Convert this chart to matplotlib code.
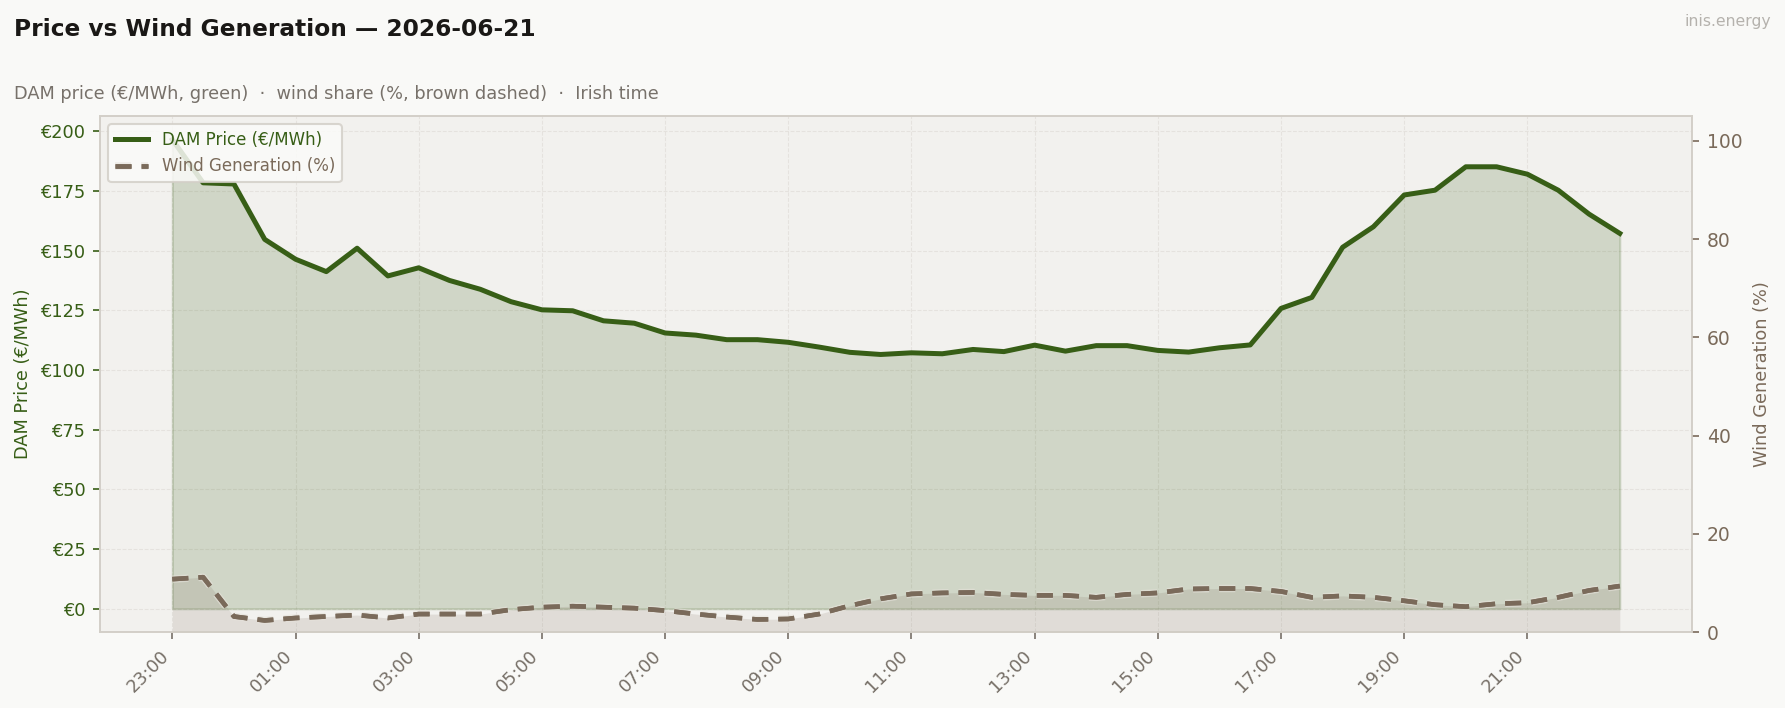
import pandas as pd
import matplotlib
matplotlib.use("Agg")
import matplotlib.pyplot as plt
import matplotlib.dates as mdates
import matplotlib.patheffects as pe

# half-hourly DAM prices (EUR/MWh) from 23:00 on 2026-06-20
price = [
    196.5, 178.4, 177.9, 154.7, 146.4, 141.2, 151.0, 139.4,
    142.8, 137.5, 133.8, 128.6, 125.2, 124.8, 120.6, 119.6,
    115.5, 114.6, 112.7, 112.7, 111.6, 109.6, 107.4, 106.5,
    107.2, 106.8, 108.6, 107.7, 110.4, 107.9, 110.2, 110.2,
    108.2, 107.5, 109.3, 110.5, 125.8, 130.4, 151.4, 160.0,
    173.3, 175.3, 185.1, 185.1, 182.0, 175.3, 165.3, 157.2,
]
# wind share of generation (%)
wind = [
    10.8, 11.2, 3.2, 2.4, 2.9, 3.2, 3.5, 2.9,
    3.7, 3.7, 3.7, 4.6, 5.1, 5.3, 5.1, 4.9,
    4.4, 3.7, 3.1, 2.6, 2.7, 3.7, 5.4, 6.8,
    7.8, 8.0, 8.1, 7.7, 7.5, 7.5, 7.1, 7.7,
    8.0, 8.8, 8.9, 8.9, 8.3, 7.1, 7.4, 7.1,
    6.4, 5.6, 5.2, 5.8, 6.0, 7.1, 8.5, 9.4,
]
times = pd.date_range("2026-06-20 23:00", periods=len(price), freq="30min")

GREEN = "#375e16"
BROWN = "#7a6a5a"
BG = "#f9f9f7"
AX_BG = "#f2f1ee"
SPINE = "#d3cfc8"

fig = plt.figure(figsize=(11.9, 4.72), dpi=150, facecolor=BG)
ax = fig.add_axes([0.056, 0.107, 0.892, 0.729])
ax.set_facecolor(AX_BG)
ax2 = ax.twinx()

# price
ax.fill_between(times, price, 0, color=GREEN, alpha=0.18, linewidth=1)
l1, = ax.plot(times, price, color=GREEN, linewidth=2.4, label="DAM Price (€/MWh)", zorder=3)

# wind
ax2.fill_between(times, wind, 0, color=BROWN, alpha=0.15, linewidth=0)
l2, = ax2.plot(times, wind, color=BROWN, linewidth=2.2, linestyle=(0, (3.5, 2.2)),
               label="Wind Generation (%)", zorder=3,
               path_effects=[pe.withStroke(linewidth=3.6, foreground="#e6e2db", alpha=0.6), pe.Normal()])
ax2.set_ylim(0, 105)

ax.yaxis.set_major_formatter(matplotlib.ticker.FuncFormatter(lambda v, p: f"€{v:.0f}"))
ax.set_xticks(times[::4])
ax.xaxis.set_major_formatter(mdates.DateFormatter("%H:%M"))
plt.setp(ax.get_xticklabels(), rotation=45, ha="right")

ax.tick_params(axis="y", colors=GREEN, labelsize=8.5)
ax.tick_params(axis="x", colors="#777068", labelsize=8.5)
ax2.tick_params(axis="y", colors=BROWN, labelsize=9)
for a in (ax, ax2):
    for s in a.spines.values():
        s.set_color(SPINE)
ax.grid(True, linestyle="--", color="#e2dfda", linewidth=0.5, alpha=0.8)
ax.set_axisbelow(True)

ax.set_ylabel("DAM Price (€/MWh)", color=GREEN, fontsize=8.5, labelpad=4)
ax2.set_ylabel("Wind Generation (%)", color=BROWN, fontsize=8.5, labelpad=5)

leg = ax.legend(handles=[l1, l2], loc="upper left", fontsize=8, frameon=True,
                facecolor="#fbfbf9", edgecolor=SPINE, framealpha=0.85)
for txt, c in zip(leg.get_texts(), [GREEN, BROWN]):
    txt.set_color(c)

fig.text(0.008, 0.975, "Price vs Wind Generation — 2026-06-21", fontsize=11.2,
         fontweight="bold", color="#1a1816", va="top", ha="left")
fig.text(0.008, 0.867, "DAM price (€/MWh, green)  ·  wind share (%, brown dashed)  ·  Irish time",
         fontsize=8.5, color="#77716a", va="center", ha="left")
fig.text(0.992, 0.969, "inis.energy", fontsize=7.5, color="#b5b2ad", va="center", ha="right")

fig.savefig("out.png", dpi=150, facecolor=BG)
